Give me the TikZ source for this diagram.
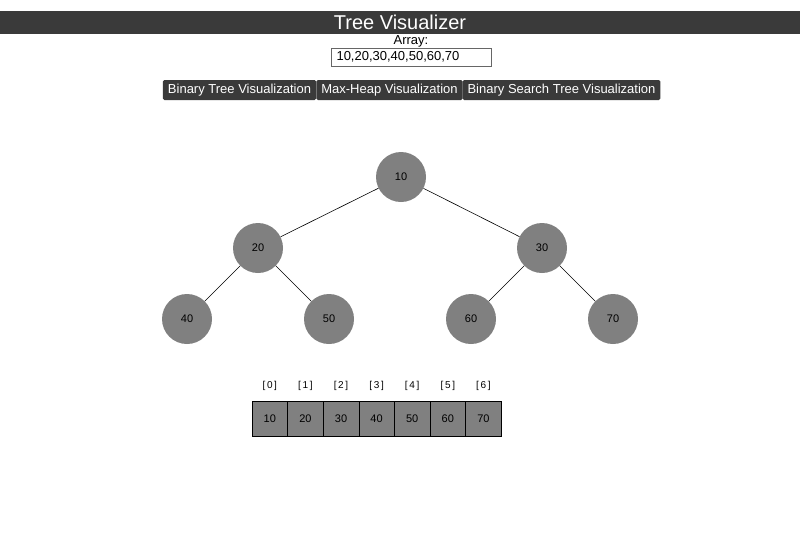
\documentclass[tikz,border=0pt]{standalone}
\usepackage{fontspec}
\setmainfont{Liberation Sans}
\definecolor{bar}{HTML}{3A3A3A}
\definecolor{nodegray}{HTML}{808080}
\tikzstyle{treenode} = [circle, 
minimum size=50pt, 
inner sep=0pt, 
fill=nodegray, 
font=\fontsize{11}{13}\selectfont]
\tikzstyle{cell} = [rectangle, 
minimum width=35.6pt, 
minimum height=35pt, 
draw=black, 
fill=nodegray, 
font=\fontsize{11}{13}\selectfont]
\tikzstyle{idx} = [font=\fontsize{10}{12}\selectfont]
\tikzstyle{button} = [rectangle, rounded corners=1.5pt, 
minimum height=20pt, 
inner xsep=5pt, 
fill=bar, text=white, 
font=\fontsize{13}{15}\selectfont]
\tikzstyle{edge} = [black, line width=0.6pt]

\begin{document}
\begin{tikzpicture}[x=1pt, y=-1pt]
\useasboundingbox (0,0) rectangle (800,550);
\fill[bar] (0,11) rectangle (800,34);
\node (title) [text=white, font=\fontsize{20}{22}\selectfont] at (400,22.5) {Tree Visualizer};
\node (lbl) [font=\fontsize{13}{15}\selectfont] at (411,41) {Array:};
\node (input) [draw=black!60, minimum width=160pt, minimum height=18pt, inner sep=0pt] at (411,57) {};
\node [font=\fontsize{13}{15}\selectfont, anchor=west] at (333,57) {10,20,30,40,50,60,70};

\node (b1) [button, minimum width=149pt] at (239.5,90) {Binary Tree Visualization};
\node (b2) [button, minimum width=143pt] at (389.5,90) {Max-Heap Visualization};
\node (b3) [button, minimum width=193pt] at (561.5,90) {Binary Search Tree Visualization};

% tree
\node (n10) [treenode] at (401,177) {10};
\node (n20) [treenode] at (258,248) {20};
\node (n30) [treenode] at (542,248) {30};
\node (n40) [treenode] at (187,319) {40};
\node (n50) [treenode] at (329,319) {50};
\node (n60) [treenode] at (471,319) {60};
\node (n70) [treenode] at (613,319) {70};

\draw [edge] (n10) -- (n20);
\draw [edge] (n10) -- (n30);
\draw [edge] (n20) -- (n40);
\draw [edge] (n20) -- (n50);
\draw [edge] (n30) -- (n60);
\draw [edge] (n30) -- (n70);

% array
\foreach \v [count=\i from 0] in {10,20,30,40,50,60,70} {
  \node (c\i) [cell] at (269.8+35.6*\i,418.5) {\v};
  \node (i\i) [idx] at (269.8+35.6*\i,386) {[\,\i\,]};
}
\end{tikzpicture}
\end{document}
